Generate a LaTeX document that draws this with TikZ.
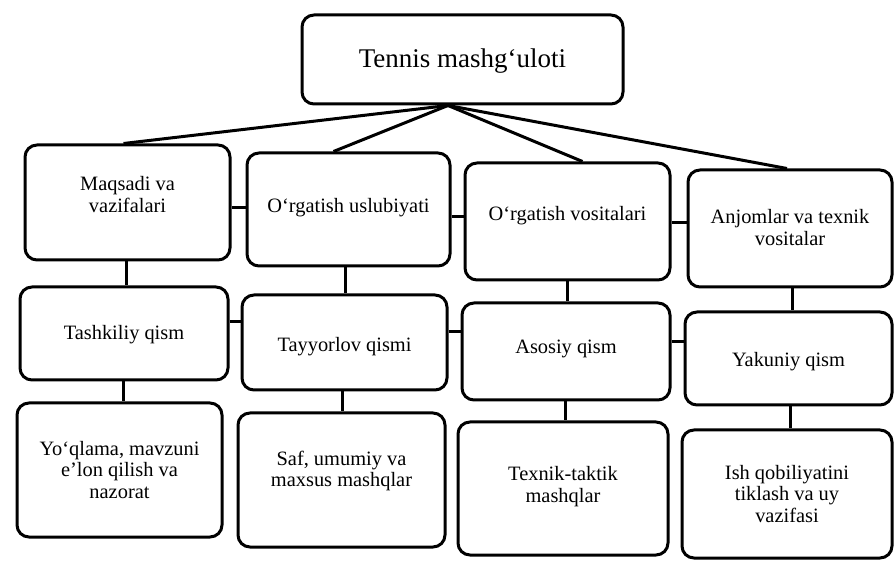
\documentclass[tikz,border=0pt]{standalone}
\usepackage{fontspec}
\setmainfont{Liberation Serif}
\begin{document}
\begin{tikzpicture}[x=0.5pt,y=-0.5pt,
  box/.style={draw=black, line width=1.5pt, rounded corners=6pt, fill=white, inner sep=0pt},
  txt/.style={align=center, font=\fontsize{10.2}{10.6}\selectfont, inner sep=0pt},
  conn/.style={draw=black, line width=1.5pt}]
\useasboundingbox[fill=white] (0,0) rectangle (895,561);

% boxes
\node[box, minimum width=160.5pt, minimum height=44.5pt] (top) at (462.5,59.5) {};
\node[box, minimum width=102.5pt, minimum height=57.5pt] (b1) at (127.5,202.5) {};
\node[box, minimum width=101.5pt, minimum height=56.5pt] (b2) at (348.5,209.5) {};
\node[box, minimum width=102.5pt, minimum height=58.5pt] (b3) at (567.5,221.5) {};
\node[box, minimum width=102pt, minimum height=58.5pt] (b4) at (790,228.5) {};
\node[box, minimum width=104pt, minimum height=46.5pt] (b5) at (124,333.5) {};
\node[box, minimum width=102.5pt, minimum height=47.5pt] (b6) at (344.5,342.5) {};
\node[box, minimum width=104pt, minimum height=48.5pt] (b7) at (566,351.5) {};
\node[box, minimum width=103.5pt, minimum height=46.5pt] (b8) at (788.5,358.5) {};
\node[box, minimum width=102.5pt, minimum height=67pt] (b9) at (119.5,470) {};
\node[box, minimum width=103.5pt, minimum height=67pt] (b10) at (341.5,480) {};
\node[box, minimum width=105pt, minimum height=66.5pt] (b11) at (563,488.5) {};
\node[box, minimum width=105pt, minimum height=64pt] (b12) at (787,494) {};

% texts
\node[txt, font=\fontsize{13.5}{15}\selectfont] (ttop) at ([yshift=-1pt]top.center) {Tennis mashg`uloti};
\node[txt] (t1) at ([yshift=4pt]b1.center) {Maqsadi va\\vazifalari};
\node[txt] (t2) at ([yshift=1pt]b2.center) {O`rgatish uslubiyati};
\node[txt] (t3) at ([yshift=3pt]b3.center) {O`rgatish vositalari};
\node[txt] (t4) at ([yshift=0.5pt]b4.center) {Anjomlar va texnik\\vositalar};
\node[txt] (t5) at ([yshift=-0.7pt]b5.center) {Tashkiliy qism};
\node[txt] (t6) at ([yshift=-2pt]b6.center) {Tayyorlov qismi};
\node[txt] (t7) at ([yshift=1.5pt]b7.center) {Asosiy qism};
\node[txt] (t8) at ([yshift=-1.5pt]b8.center) {Yakuniy qism};
\node[txt] (t9) at (b9.center) {Yo`qlama, mavzuni\\e'lon qilish va\\nazorat};
\node[txt] (t10) at ([yshift=4.5pt]b10.center) {Saf, umumiy va\\maxsus mashqlar};
\node[txt] (t11) at ([yshift=1pt]b11.center) {Texnik-taktik\\mashqlar};
\node[txt] (t12) at (b12.center) {Ish qobiliyatini\\tiklash va uy\\vazifasi};

% fan connectors
\coordinate (hub) at ([xshift=-7.25pt]top.south);
\draw[conn] (hub) -- ([xshift=-2pt]b1.north);
\draw[conn] (hub) -- ([xshift=-7.5pt]b2.north);
\draw[conn] (hub) -- ([xshift=7.5pt]b3.north);
\draw[conn] (hub) -- ([xshift=-1.5pt]b4.north);

% horizontal connectors
\draw[conn] (b1.east |- 0,208) -- (b2.west |- 0,208);
\draw[conn] (b2.east |- 0,217) -- (b3.west |- 0,217);
\draw[conn] (b3.east |- 0,223) -- (b4.west |- 0,223);
\draw[conn] (b5.east |- 0,322) -- (b6.west |- 0,322);
\draw[conn] (b6.east |- 0,332) -- (b7.west |- 0,332);
\draw[conn] (b7.east |- 0,342) -- (b8.west |- 0,342);

% vertical connectors
\draw[conn] (b1.south -| 126,0) -- (b5.north -| 126,0);
\draw[conn] (b2.south -| 345,0) -- (b6.north -| 345,0);
\draw[conn] (b3.south -| 567,0) -- (b7.north -| 567,0);
\draw[conn] (b4.south -| 792,0) -- (b8.north -| 792,0);
\draw[conn] (b5.south -| 123,0) -- (b9.north -| 123,0);
\draw[conn] (b6.south -| 342,0) -- (b10.north -| 342,0);
\draw[conn] (b7.south -| 565,0) -- (b11.north -| 565,0);
\draw[conn] (b8.south -| 790,0) -- (b12.north -| 790,0);
\end{tikzpicture}
\end{document}
